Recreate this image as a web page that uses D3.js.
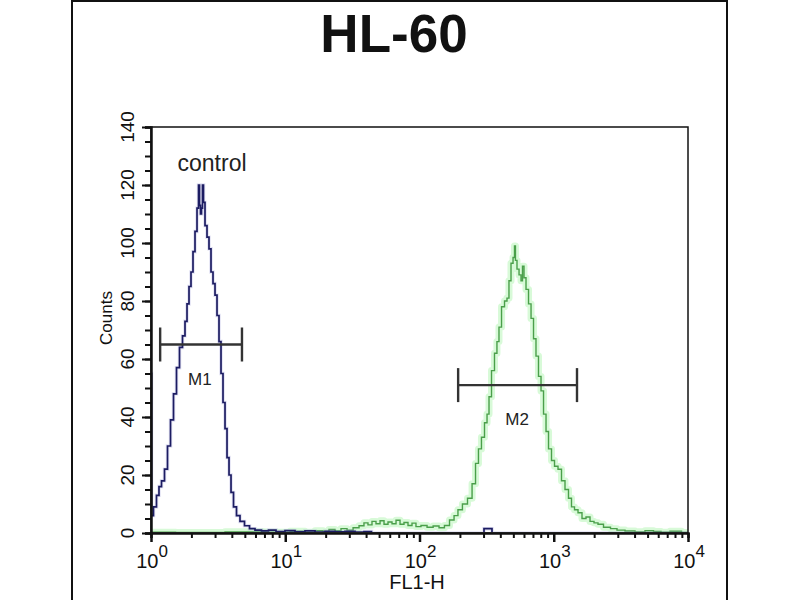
<!DOCTYPE html>
<meta charset="utf-8">
<head>
    <meta charset="UTF-8">
    <title>HL-60</title>
    <style>
      body { margin: 0; background: #fff; }
      text { font-family: "Liberation Sans", Arial, sans-serif; fill: #111; }
    </style>
</head>
<body>
<script src="https://d3js.org/d3.v7.min.js"></script>
<div id="histogram"></div>
<script>

    // control histogram (blue): FL1-H value, counts
    const controlFL = [1.00, 1.017, 1.071, 1.127, 1.167, 1.229, 1.293, 1.362, 1.434, 1.509, 1.589, 1.673,
      1.761, 1.823, 1.887, 1.952, 2.020, 2.091, 2.164, 2.240, 2.279, 2.317, 2.357, 2.398, 2.439, 2.482,
      2.569, 2.658, 2.751, 2.847, 2.947, 3.050, 3.156, 3.266, 3.380, 3.498, 3.621, 3.747, 3.878, 4.013,
      4.225, 4.446, 4.763, 5.190, 5.654, 6.266, 7.068, 7.966, 9.140, 10.85, 12.88, 15.29, 18.15, 21.54,
      25.58, 30.37, 36.05, 41.34, 46.63, 292, 313, 335, 359, 10000]
    const controlCounts = [55, 6, 9, 13, 16, 18, 22, 30, 39, 48, 57, 64,
      68, 73, 79, 85, 90, 97, 104, 112, 120, 113, 110, 112, 120, 114,
      106, 102, 98, 90, 86, 82, 75, 66, 55, 45, 36, 26, 20, 14,
      9, 6, 4, 2.5, 1.5, 1, 0.7, 1, 0.5, 0.8, 0.4, 0.7, 0.3, 0.6,
      0.4, 0.6, 0.3, 0.5, 0, 0, 1.5, 1.5, 0, 0]

    // stained histogram (green): FL1-H value, counts
    const sampleFL = [1.00, 2.32, 5.46, 9.14, 12.9, 15.3, 18.2, 20.1, 22.3, 24.7, 27.4, 30.4, 33.7, 37.3,
      39.9, 42.8, 45.8, 49.1, 52.6, 56.3, 60.3, 64.6, 69.2, 74.1, 79.3, 85.0, 91.0, 97.4, 108, 120,
      133, 147, 160, 175, 187, 200, 218, 238, 255, 268, 282, 297, 313, 324, 335, 353, 371, 384, 398,
      419, 441, 456, 472, 489, 506, 514, 523, 542, 561, 580, 590, 611, 632, 666, 689, 725, 750, 790,
      818, 861, 891, 938, 987, 1040, 1113, 1172, 1255, 1321, 1391, 1465, 1569, 1680, 1800, 1928, 2064,
      2211, 2492, 2811, 3116, 3698, 4391, 5212, 5877, 6743, 8003, 10000]
    const sampleCounts = [0.3, 0.2, 0.4, 0.3, 0.6, 0.3, 0.8, 0.5, 1.2, 0.8, 1.5, 1.0, 1.8, 2.5,
      3.5, 2.8, 4.0, 3.2, 4.2, 3.0, 3.8, 3.2, 4.4, 3.0, 3.6, 2.6, 3.4, 2.2, 2.6, 2.0,
      2.4, 1.8, 2.6, 4.5, 6, 8, 10, 12, 17, 24, 29, 33, 38, 41, 47, 56, 62, 66, 71,
      78, 80, 81, 87, 93, 95, 99, 94, 91, 89, 87, 92, 88, 84, 79, 74, 67, 61, 54,
      49, 41, 35, 29, 25, 23, 22, 18, 15, 12, 9, 8, 7, 5, 5.5, 4, 3.5,
      3, 2, 1.5, 1, 0.7, 0.4, 0.8, 0.5, 0.3, 0.6, 0.2]

    // gates
    const markerNames = ["M1", "M2"]
    const markerFrom = [1.17, 194]
    const markerTo = [4.76, 1490]
    const markerLevel = [65, 51]

    // axis ticks
    const yTicks = [0, 20, 40, 60, 80, 100, 120, 140]
    const xDecades = [0, 1, 2, 3, 4]

    const W = 800, H = 600
    const plot = {left: 151, right: 688, top: 127, bottom: 533}

    const svg = d3.select("#histogram")
      .append("svg")
        .attr("width", W)
        .attr("height", H)

    // outer frame of the image
    svg.append("rect")
      .attr("x", 72).attr("y", 1)
      .attr("width", 655).attr("height", H + 10)
      .attr("fill", "none")
      .attr("stroke", "#111")
      .attr("stroke-width", 2)

    // title
    svg.append("text")
      .attr("x", 394).attr("y", 52)
      .attr("text-anchor", "middle")
      .style("font-size", "53px")
      .style("font-weight", "bold")
      .text("HL-60")

    const x = d3.scaleLog()
      .domain([1, 10000])
      .range([plot.left, plot.right])
    const y = d3.scaleLinear()
      .domain([0, 140])
      .range([plot.bottom, plot.top])

    svg.append("clipPath").attr("id", "clip")
      .append("rect")
        .attr("x", plot.left).attr("y", plot.top - 2)
        .attr("width", plot.right - plot.left).attr("height", plot.bottom - plot.top + 1)

    const line = d3.line()
      .x(d => x(d[0]))
      .y(d => y(d[1]))
      .curve(d3.curveStep)

    const control = controlFL.map((v, i) => [v, controlCounts[i]])
    const sample = sampleFL.map((v, i) => [v, sampleCounts[i]])

    const curves = svg.append("g").attr("clip-path", "url(#clip)")

    // green glow + line
    curves.append("path").datum(sample)
      .attr("d", line)
      .attr("fill", "none")
      .attr("stroke", "#8ef08e")
      .attr("stroke-width", 7)
      .attr("stroke-linejoin", "round")
      .attr("opacity", 0.35)
    curves.append("path").datum(sample)
      .attr("d", line)
      .attr("fill", "none")
      .attr("stroke", "#4a9f4a")
      .attr("stroke-width", 1.4)

    // blue line
    curves.append("path").datum(control)
      .attr("d", line)
      .attr("fill", "none")
      .attr("stroke", "#9a9ad6")
      .attr("stroke-width", 3.5)
      .attr("opacity", 0.3)
    curves.append("path").datum(control)
      .attr("d", line)
      .attr("fill", "none")
      .attr("stroke", "#1c1c62")
      .attr("stroke-width", 1.7)

    // plot box
    svg.append("rect")
      .attr("x", plot.left).attr("y", plot.top)
      .attr("width", plot.right - plot.left).attr("height", plot.bottom - plot.top)
      .attr("fill", "none")
      .attr("stroke", "#111")
      .attr("stroke-width", 1.5)

    // Y axis: majors every 20, minors every 5
    svg.append("g")
      .attr("transform", `translate(${plot.left},0)`)
      .call(d3.axisLeft(y).tickValues(d3.range(0, 141, 5)).tickSize(6).tickFormat(""))
      .call(g => g.selectAll("line").attr("stroke", "#111").attr("stroke-width", 2))
      .call(g => g.select(".domain").attr("stroke", "#111").attr("stroke-width", 2.5))
    svg.append("g")
      .attr("transform", `translate(${plot.left},0)`)
      .call(d3.axisLeft(y).tickValues(yTicks).tickSize(9).tickFormat(""))
      .call(g => g.selectAll("line").attr("stroke", "#111").attr("stroke-width", 2))
      .call(g => g.select(".domain").remove())

    svg.selectAll(".ylab")
      .data(yTicks)
      .join("text")
        .attr("class", "ylab")
        .attr("transform", d => `translate(134,${y(d)}) rotate(-90)`)
        .attr("text-anchor", "middle")
        .style("font-size", "19px")
        .text(d => d)

    svg.append("text")
      .attr("transform", `translate(112,318) rotate(-90)`)
      .attr("text-anchor", "middle")
      .style("font-size", "17px")
      .text("Counts")

    // X axis: decades + 2..9 minors
    const minorX = []
    xDecades.slice(0, -1).forEach(k => { for (let m = 2; m <= 9; m++) minorX.push(m * Math.pow(10, k)) })
    svg.append("g")
      .attr("transform", `translate(0,${plot.bottom})`)
      .call(d3.axisBottom(x).tickValues(minorX).tickSize(5).tickFormat(""))
      .call(g => g.selectAll("line").attr("stroke", "#111").attr("stroke-width", 2))
      .call(g => g.select(".domain").attr("stroke", "#111").attr("stroke-width", 2.5))
    svg.append("g")
      .attr("transform", `translate(0,${plot.bottom})`)
      .call(d3.axisBottom(x).tickValues(xDecades.map(k => Math.pow(10, k))).tickSize(9).tickFormat(""))
      .call(g => g.selectAll("line").attr("stroke", "#111").attr("stroke-width", 2.5))
      .call(g => g.select(".domain").remove())

    const xl = svg.selectAll(".xlab")
      .data(xDecades)
      .join("text")
        .attr("class", "xlab")
        .attr("x", d => x(Math.pow(10, d)) + 1)
        .attr("y", 568)
        .attr("text-anchor", "middle")
        .style("font-size", "20px")
    xl.append("tspan").text("10")
    xl.append("tspan")
      .attr("dy", -11)
      .style("font-size", "17px")
      .text(d => d)

    svg.append("text")
      .attr("x", 417).attr("y", 589)
      .attr("text-anchor", "middle")
      .style("font-size", "20px")
      .text("FL1-H")

    // markers
    const gates = svg.selectAll(".gate")
      .data(markerNames)
      .join("g")
        .attr("class", "gate")
    gates.append("line")
      .attr("x1", (d, i) => x(markerFrom[i]))
      .attr("x2", (d, i) => x(markerTo[i]))
      .attr("y1", (d, i) => y(markerLevel[i]))
      .attr("y2", (d, i) => y(markerLevel[i]))
      .attr("stroke", "#333").attr("stroke-width", 2.4)
    gates.append("line")
      .attr("x1", (d, i) => x(markerFrom[i]))
      .attr("x2", (d, i) => x(markerFrom[i]))
      .attr("y1", (d, i) => y(markerLevel[i]) - 17)
      .attr("y2", (d, i) => y(markerLevel[i]) + 17)
      .attr("stroke", "#333").attr("stroke-width", 2.4)
    gates.append("line")
      .attr("x1", (d, i) => x(markerTo[i]))
      .attr("x2", (d, i) => x(markerTo[i]))
      .attr("y1", (d, i) => y(markerLevel[i]) - 17)
      .attr("y2", (d, i) => y(markerLevel[i]) + 17)
      .attr("stroke", "#333").attr("stroke-width", 2.4)
    gates.append("text")
      .attr("x", (d, i) => Math.sqrt(x(markerFrom[i]) * x(markerTo[i])) + 3)
      .attr("y", (d, i) => y(markerLevel[i]) + 40)
      .attr("text-anchor", "middle")
      .style("font-size", "17px")
      .style("fill", "#222")
      .text(d => d)

    // annotation
    svg.append("text")
      .attr("x", x(2.85)).attr("y", y(125))
      .attr("text-anchor", "middle")
      .style("font-size", "23px")
      .style("fill", "#222")
      .text("control")
</script>
</body>
